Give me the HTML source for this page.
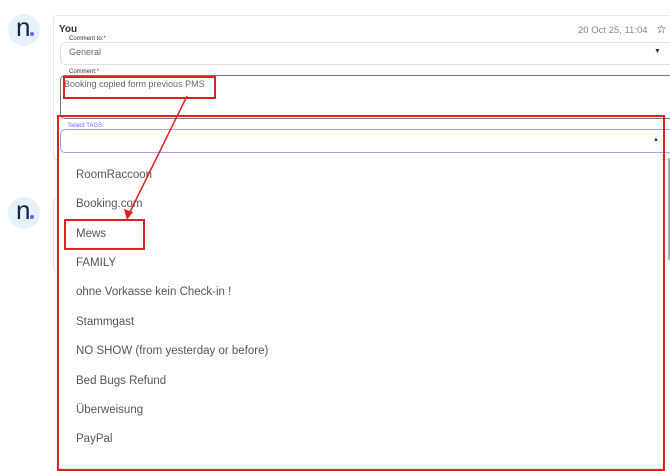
<!DOCTYPE html>
<html><head><style>
body{margin:0;width:670px;height:471px;background:#fff;position:relative;overflow:hidden;font-family:"Liberation Sans",sans-serif;}
.a{position:absolute}
.av{position:absolute;width:32px;height:32px;border-radius:50%;background:#e3f2fb;}
.av span{position:absolute;left:8px;top:0px;font-size:26px;color:#1b2140;line-height:26px}
.av i{position:absolute;left:22px;top:18px;width:4px;height:4px;border-radius:50%;background:#7b5cf5}
.it{position:absolute;left:76px;font-size:11.5px;color:#555;}
</style></head><body>
<div class="av" style="left:8px;top:14px"><span>n</span><i></i></div>
<div class="av" style="left:8px;top:197px"><span>n</span><i></i></div>
<div class="a" style="left:53px;top:15px;width:630px;height:143px;border:1px solid #e3e5ea;border-radius:4px"></div>
<div class="a" style="left:53px;top:198px;width:20px;height:72px;border:1px solid #e3e5ea;border-radius:4px"></div>
<div class="a" style="left:59px;top:24px;font-size:10px;font-weight:bold;color:#333">You</div>
<div class="a" style="left:578px;top:25px;font-size:9.5px;color:#888">20 Oct 25, 11:04</div>
<div class="a" style="left:656px;top:22px;font-size:12px;color:#333">☆</div>
<div class="a" style="left:60px;top:42px;width:620px;height:21px;border:1px solid #dde0e6;border-radius:5px"></div>
<div class="a" style="left:67px;top:36px;font-size:6px;background:#fff;color:#333;padding:0 2px">Comment to:<span style="color:red">*</span></div>
<div class="a" style="left:69px;top:47px;font-size:9px;color:#666">General</div>
<div class="a" style="left:654px;top:48px;font-size:7px;color:#333">▼</div>
<div class="a" style="left:60px;top:75px;width:620px;height:42px;border:1px solid #777;border-radius:5px"></div>
<div class="a" style="left:67px;top:69px;font-size:6px;background:#fff;color:#333;padding:0 2px">Comment:<span style="color:red">*</span></div>
<div class="a" style="left:64px;top:79px;font-size:9px;color:#666">Booking copied form previous PMS</div>
<div class="a" style="left:63px;top:76px;width:149px;height:19px;border:2px solid #e02020"></div>
<div class="a" style="left:58px;top:150px;width:604px;height:318px;background:#fff;box-shadow:0 2px 6px rgba(0,0,0,.1)"></div>
<div class="a" style="left:60px;top:129px;width:620px;height:22px;border:1px solid #a99cf8;border-radius:5px;background:#fff"></div>
<div class="a" style="left:66px;top:123px;font-size:6px;background:#fff;color:#7b5cf5;padding:0 2px">Select TAGS</div>
<div class="a" style="left:653px;top:137px;font-size:6px;color:#333">▲</div>
<div class="a" style="left:57px;top:115px;width:604px;height:352px;border:2px solid #e02020"></div>
<div class="a" style="left:668px;top:158px;width:2px;height:102px;background:#aab"></div>
<div class="it" style="top:169px">RoomRaccoon</div>
<div class="it" style="top:198px">Booking.com</div>
<div class="it" style="top:228px">Mews</div>
<div class="it" style="top:257px">FAMILY</div>
<div class="it" style="top:286px">ohne Vorkasse kein Check-in !</div>
<div class="it" style="top:316px">Stammgast</div>
<div class="it" style="top:345px">NO SHOW (from yesterday or before)</div>
<div class="it" style="top:375px">Bed Bugs Refund</div>
<div class="it" style="top:404px">Überweisung</div>
<div class="it" style="top:433px">PayPal</div>
<div class="a" style="left:64px;top:219px;width:77px;height:27px;border:2px solid #e02020"></div>
<svg class="a" style="left:0;top:0" width="670" height="471"><line x1="187" y1="96" x2="130" y2="212" stroke="#e02020" stroke-width="1.5"/><polygon points="127,220 124,209 133,212" fill="#e02020"/></svg>
</body></html>
